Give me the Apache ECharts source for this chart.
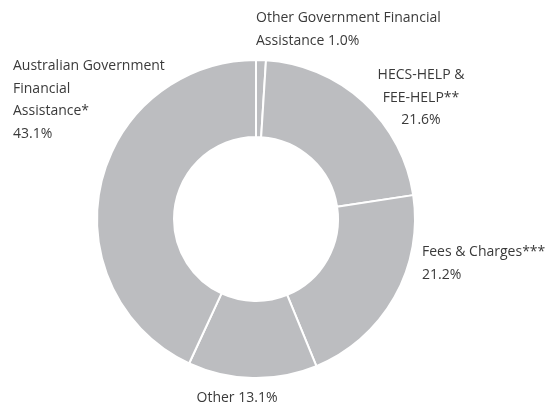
<!DOCTYPE html>
<html>
<head>
<meta charset="utf-8">
<script src="https://cdn.jsdelivr.net/npm/echarts@6/dist/echarts.min.js"></script>
<style>
  html, body { margin: 0; padding: 0; background: #fff; }
  #chart { width: 552px; height: 408px; }
</style>
</head>
<body>
<div id="chart"></div>
<script>
    // data, clockwise from 12 o'clock
    var names = [
        'Other Government Financial\nAssistance',
        'HECS-HELP &\nFEE-HELP**',
        'Fees & Charges***',
        'Other',
        'Australian Government\nFinancial\nAssistance*'
    ];
    var values = [1.0, 21.6, 21.2, 13.1, 43.1];
    // how the percent sits after the name: same line or new line
    var pctSep = [' ', '\n', '\n', ' ', '\n'];

    // label placement (top of text block)
    var labelPos = [
        { x: 256, y: 7, align: 'left' },
        { x: 421, y: 64, align: 'center' },
        { x: 422, y: 241, align: 'left' },
        { x: 237, y: 387, align: 'center' },
        { x: 13, y: 55, align: 'left' }
    ];

    var pieData = [];
    for (var i = 0; i < names.length; i++) {
        pieData.push({ name: names[i], value: values[i] });
    }

    var chart = echarts.init(document.getElementById('chart'));
    chart.setOption({
        animation: false,
        series: [{
            type: 'pie',
            center: [256, 219],
            radius: [82, 159],
            startAngle: 90,
            clockwise: true,
            data: pieData,
            itemStyle: {
                color: '#bcbdc0',
                borderColor: '#ffffff',
                borderWidth: 2
            },
            labelLine: { show: false },
            label: {
                show: true,
                position: 'outside',
                overflow: 'none',
                color: '#3a3a3a',
                fontFamily: '"Open Sans", sans-serif',
                fontSize: 14,
                lineHeight: 22.5,
                formatter: function (p) {
                    return p.name + pctSep[p.dataIndex] + p.value.toFixed(1) + '%';
                }
            },
            labelLayout: function (p) {
                var pos = labelPos[p.dataIndex];
                return { x: pos.x, y: pos.y, align: pos.align, verticalAlign: 'top', moveOverlap: false, hideOverlap: false };
            }
        }]
    });
</script>
</body>
</html>
